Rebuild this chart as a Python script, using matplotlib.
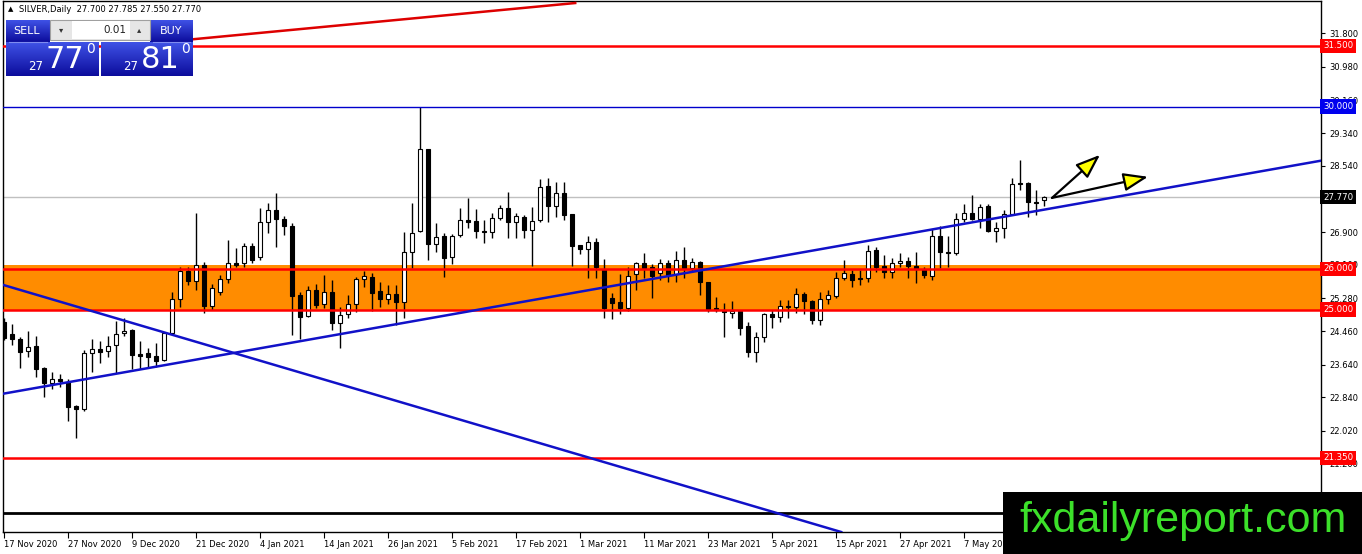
import numpy as np
import matplotlib
matplotlib.use('Agg')
import matplotlib.pyplot as plt
from matplotlib import transforms
from matplotlib.colors import LinearSegmentedColormap
from matplotlib.patches import Rectangle

# daily OHLC for SILVER, 17 Nov 2020 .. 21 May 2021
opens = [24.69, 24.40, 24.28, 23.98, 24.10, 23.56, 23.19, 23.29, 23.22, 22.63,
         22.55, 23.93, 24.03, 23.98, 24.13, 24.42, 24.50, 23.91, 23.93, 23.86,
         23.76, 24.42, 25.26, 25.95, 25.70, 26.10, 25.09, 25.43, 25.75, 26.15,
         26.15, 26.57, 26.30, 27.16, 27.45, 27.23, 27.06, 25.36, 24.84, 25.48,
         25.14, 25.43, 24.67, 24.89, 25.14, 25.75, 25.80, 25.46, 25.26, 25.38,
         25.19, 26.42, 26.94, 28.96, 26.62, 26.81, 26.30, 26.84, 27.21, 27.18,
         26.94, 26.91, 27.26, 27.50, 27.16, 27.28, 26.96, 27.21, 28.04, 27.55,
         27.87, 27.35, 26.59, 26.49, 26.67, 26.00, 25.29, 25.19, 25.04, 25.88,
         26.15, 26.05, 25.90, 26.15, 25.88, 26.22, 26.02, 26.17, 25.68, 25.04,
         24.99, 24.92, 24.97, 24.60, 23.96, 24.33, 24.89, 24.82, 25.09, 25.06,
         25.38, 25.21, 24.74, 25.26, 25.33, 25.78, 25.88, 25.78, 25.78, 26.47,
         26.07, 25.93, 26.15, 26.20, 26.07, 26.00, 25.83, 26.81, 26.42, 26.39,
         27.23, 27.38, 27.23, 27.55, 26.94, 27.01, 27.35, 28.12, 28.12, 27.65,
         27.70]
highs = [24.79, 24.65, 24.33, 24.47, 24.35, 23.59, 23.46, 23.41, 23.29, 22.65,
         24.00, 24.28, 24.23, 24.35, 24.72, 24.79, 24.52, 24.23, 24.05, 24.18,
         24.45, 25.43, 26.05, 26.05, 27.38, 26.17, 25.63, 25.85, 26.71, 26.52,
         26.64, 26.64, 27.50, 27.63, 27.87, 27.31, 27.13, 25.43, 25.58, 25.63,
         25.85, 25.73, 25.06, 25.36, 25.80, 25.95, 25.90, 25.68, 25.61, 25.61,
         26.91, 27.63, 29.99, 28.96, 27.13, 26.89, 26.86, 27.50, 27.75, 27.48,
         27.21, 27.38, 27.58, 27.90, 27.38, 27.33, 27.53, 28.22, 28.24, 28.14,
         28.14, 27.35, 26.59, 26.81, 26.76, 26.25, 25.41, 25.88, 26.05, 26.17,
         26.39, 26.12, 26.25, 26.22, 26.44, 26.54, 26.27, 26.20, 25.68, 25.31,
         25.16, 25.21, 24.97, 24.69, 24.45, 24.92, 24.99, 25.24, 25.24, 25.53,
         25.43, 25.24, 25.43, 25.48, 25.93, 26.22, 25.98, 25.98, 26.59, 26.54,
         26.34, 26.27, 26.39, 26.30, 26.42, 26.05, 26.99, 27.06, 26.81, 27.38,
         27.60, 27.82, 27.60, 27.60, 27.16, 27.45, 28.24, 28.68, 28.14, 27.95,
         27.785]
lows = [24.25, 24.13, 23.56, 23.83, 23.34, 22.85, 23.04, 23.09, 22.26, 21.84,
        22.50, 23.46, 23.68, 23.83, 23.44, 24.35, 23.54, 23.54, 23.56, 23.59,
        23.73, 24.40, 25.06, 25.61, 25.48, 24.92, 24.99, 25.36, 25.66, 26.05,
        26.05, 26.15, 26.22, 26.89, 26.54, 26.84, 24.37, 24.28, 24.82, 25.04,
        25.04, 24.50, 24.05, 24.79, 24.94, 25.56, 24.97, 25.06, 25.14, 24.62,
        24.79, 26.02, 26.91, 26.22, 26.42, 25.80, 26.12, 26.79, 27.01, 26.76,
        26.64, 26.76, 27.21, 26.76, 26.76, 26.76, 26.07, 27.16, 27.16, 27.28,
        27.21, 26.07, 26.37, 25.78, 25.78, 24.79, 24.77, 24.89, 24.97, 25.48,
        25.78, 25.29, 25.73, 25.68, 25.68, 25.78, 25.93, 25.36, 24.94, 24.94,
        24.33, 24.79, 24.37, 23.83, 23.71, 24.20, 24.55, 24.69, 24.79, 24.92,
        24.89, 24.65, 24.62, 25.14, 25.29, 25.73, 25.56, 25.61, 25.68, 25.93,
        25.78, 25.78, 26.05, 25.78, 25.66, 25.78, 25.73, 26.02, 26.05, 26.34,
        27.16, 27.21, 27.01, 26.91, 26.67, 26.76, 27.33, 27.95, 27.28, 27.33,
        27.55]
closes = [24.30, 24.28, 23.96, 24.08, 23.54, 23.19, 23.29, 23.24, 22.60, 22.55,
          23.93, 24.03, 23.96, 24.10, 24.40, 24.47, 23.88, 23.86, 23.83, 23.73,
          24.42, 25.26, 25.95, 25.70, 26.10, 25.09, 25.53, 25.75, 26.15, 26.10,
          26.57, 26.22, 27.16, 27.45, 27.23, 27.06, 25.33, 24.82, 25.48, 25.11,
          25.43, 24.67, 24.87, 25.14, 25.75, 25.83, 25.41, 25.26, 25.38, 25.19,
          26.42, 26.89, 28.96, 26.62, 26.79, 26.27, 26.81, 27.21, 27.16, 26.94,
          26.91, 27.26, 27.50, 27.16, 27.31, 26.96, 27.18, 28.02, 27.55, 27.87,
          27.33, 26.57, 26.49, 26.67, 26.05, 25.04, 25.16, 25.04, 25.83, 26.15,
          26.02, 25.83, 26.15, 25.85, 26.22, 26.02, 26.17, 25.68, 25.01, 24.99,
          24.94, 24.97, 24.55, 23.96, 24.33, 24.89, 24.82, 25.09, 25.06, 25.38,
          25.21, 24.74, 25.26, 25.36, 25.78, 25.90, 25.73, 25.75, 26.44, 26.05,
          25.93, 26.15, 26.20, 26.07, 26.00, 25.85, 26.81, 26.42, 26.39, 27.23,
          27.38, 27.23, 27.53, 26.94, 27.01, 27.35, 28.09, 28.09, 27.65, 27.63,
          27.77]

date_labels = ['17 Nov 2020', '27 Nov 2020', '9 Dec 2020', '21 Dec 2020', '4 Jan 2021',
               '14 Jan 2021', '26 Jan 2021', '5 Feb 2021', '17 Feb 2021', '1 Mar 2021',
               '11 Mar 2021', '23 Mar 2021', '5 Apr 2021', '15 Apr 2021', '27 Apr 2021',
               '7 May 2021']
price_ticks = [31.80, 30.98, 30.16, 29.34, 28.54, 26.90, 26.10,
               25.28, 24.46, 23.64, 22.84, 22.02, 21.20]

# drawn objects
red_levels = [31.50, 26.00, 25.00, 21.35]
blue_level = 30.00
black_level = 20.00
zone = (24.97, 26.10)
last_price = 27.77
up_trend = [(0, 22.93), (130, 27.46)]
down_trend = [(0, 25.60), (100, 19.79)]
red_trend = [(20, 31.59), (71.4, 32.55)]
arrow_tail = (131, 27.75)
arrow_tips = [(137, 28.81), (143, 28.27)]

W, H = 1362, 554
fig = plt.figure(figsize=(W / 100, H / 100), dpi=100)
ax = fig.add_axes([3 / W, 22 / H, 1318 / W, 531 / H])
ax.set_xlim(-0.125, 164.625)
ax.set_ylim(19.52, 32.60)

idx = np.arange(len(opens))
o = np.array(opens); c = np.array(closes)

ax.axhspan(zone[0], zone[1], color='#ff8c00', lw=0, zorder=1)
ax.axhline(last_price, color='#c0c0c0', lw=1, zorder=1.5)

ax.vlines(idx, lows, highs, color='black', lw=1, zorder=3)
body_lo = np.minimum(o, c)
body_h = np.maximum(np.abs(c - o), 0.012)
face = ['white' if cc >= oo else 'black' for oo, cc in zip(o, c)]
ax.bar(idx, body_h, bottom=body_lo, width=0.6, color=face, edgecolor='black',
       lw=0.8, zorder=4)

for lv in red_levels:
    ax.axhline(lv, color='#ff0000', lw=1.8, zorder=5)
ax.axhline(blue_level, color='#0000cc', lw=1, zorder=5)
ax.axhline(black_level, color='black', lw=2, zorder=5)
ax.axline(up_trend[0], up_trend[1], color='#1111c8', lw=1.8, zorder=5)
ax.axline(down_trend[0], down_trend[1], color='#1111c8', lw=1.8, zorder=5)
ax.plot([red_trend[0][0], red_trend[1][0]], [red_trend[0][1], red_trend[1][1]],
        color='#dd0000', lw=1.8, zorder=5)

for tip in arrow_tips:
    ax.annotate('', xy=tip, xytext=arrow_tail,
                arrowprops=dict(arrowstyle='-|>,head_length=0.75,head_width=0.28',
                                fc='yellow', ec='black', lw=1.6,
                                shrinkA=0, shrinkB=0, mutation_scale=20),
                zorder=6)

# axes styling
for s in ax.spines.values():
    s.set_color('black')
    s.set_linewidth(1)
ax.yaxis.tick_right()
ax.set_yticks(price_ticks)
ax.set_yticklabels(['%.3f' % v for v in price_ticks])
ax.set_xticks(np.arange(0, 8 * len(date_labels), 8))
ax.set_xticklabels(date_labels)
for lbl in ax.get_xticklabels():
    lbl.set_ha('left')
ax.tick_params(axis='y', direction='out', length=3, width=0.8, pad=3, labelsize=6)
ax.tick_params(axis='x', direction='out', length=4, width=0.8, pad=2, labelsize=6)

# price tags on the right scale
tr = transforms.blended_transform_factory(ax.transAxes, ax.transData)
tags = [(v, '#ff0000') for v in red_levels] + [(blue_level, '#0000ee'), (last_price, 'black')]
for v, col in tags:
    ax.text(1.0015, v, '%.3f' % v, transform=tr, ha='left', va='center', fontsize=6.2,
            color='white', zorder=8, clip_on=False,
            bbox=dict(boxstyle='square,pad=0.3', fc=col, ec='none'))

# overlay: trading panel and logo (screen decoration)
ov = fig.add_axes([0, 0, 1, 1], zorder=10)
ov.patch.set_alpha(0)
cmap = LinearSegmentedColormap.from_list('btn', ['#3f52e6', '#0c0c9c'])
grad = np.linspace(0, 1, 60).reshape(-1, 1)
for x0, x1, y0, y1 in [(6, 50, 20, 42), (150, 193, 20, 42), (6, 99, 42, 76), (101, 193, 42, 76)]:
    ov.imshow(grad, extent=(x0, x1, y1, y0), aspect='auto', cmap=cmap, zorder=1)
ov.plot([9, 47], [42, 42], color='#7f8cf0', lw=0.8, zorder=2)
ov.plot([153, 190], [42, 42], color='#7f8cf0', lw=0.8, zorder=2)
ov.add_patch(Rectangle((50, 20), 100, 20, fc='#e6e6e6', ec='#a0a0a0', lw=0.8, zorder=2))
ov.add_patch(Rectangle((72, 21), 58, 18, fc='white', ec='none', zorder=3))
ov.text(61, 30, '▾', ha='center', va='center', fontsize=6, color='#333333', zorder=4)
ov.text(139, 30, '▴', ha='center', va='center', fontsize=6, color='#333333', zorder=4)
ov.text(126, 30, '0.01', ha='right', va='center', fontsize=7.5, color='#222222', zorder=4)
ov.text(27, 31, 'SELL', ha='center', va='center', fontsize=8, color='white', zorder=4)
ov.text(171, 31, 'BUY', ha='center', va='center', fontsize=8, color='white', zorder=4)
for base, big, x in [('27', '77', 6), ('27', '81', 101)]:
    ov.text(x + 37, 67, base, ha='right', va='center', fontsize=8.5, color='white', zorder=4)
    ov.text(x + 40, 59, big, ha='left', va='center', fontsize=22, color='white', zorder=4)
    ov.text(x + 80, 49, '0', ha='left', va='center', fontsize=10, color='white', zorder=4)
ov.text(8, 9, '▲', ha='left', va='center', fontsize=5, color='black')
ov.text(19, 9, 'SILVER,Daily  27.700 27.785 27.550 27.770', ha='left', va='center',
        fontsize=6, color='black')

ov.add_patch(Rectangle((1003, 492), 360, 63, fc='black', ec='none', zorder=5))
ov.text(1183, 521, 'fxdailyreport.com', ha='center', va='center', fontsize=31,
        color='#3ce02a', family='Liberation Sans', zorder=6)
ov.set_xlim(0, W)
ov.set_ylim(H, 0)
ov.axis('off')

fig.savefig('out.png', dpi=100)
